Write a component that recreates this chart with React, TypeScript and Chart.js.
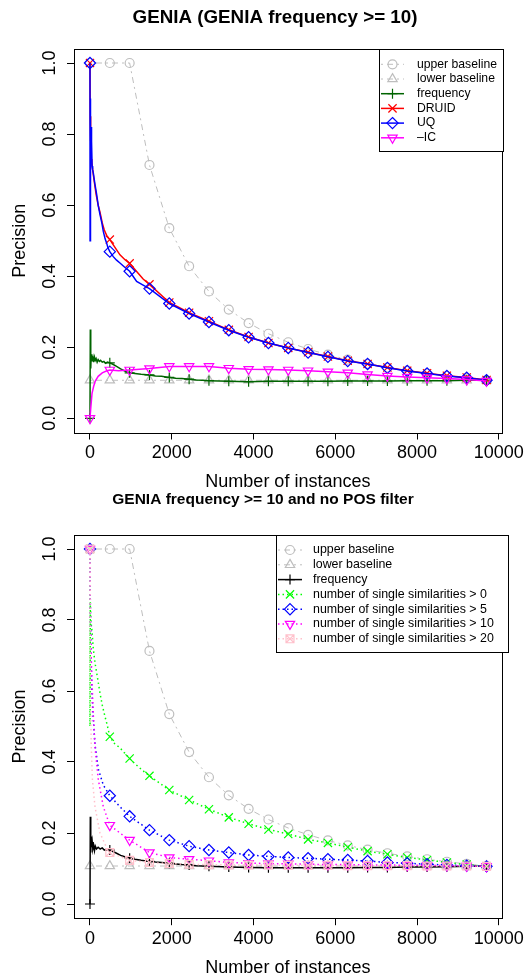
import React, { useEffect, useRef } from "react";
import { Chart, registerables } from "chart.js";

Chart.register(...registerables);

const FONT = "'Liberation Sans', Arial, Helvetica, sans-serif";

// ---------------- data ----------------
const markerX = [0, 485, 970, 1455, 1940, 2425, 2910, 3395, 3880, 4365, 4850, 5335, 5820, 6305, 6790, 7275, 7760, 8245, 8730, 9215, 9700];

const xTicks = [0, 2000, 4000, 6000, 8000, 10000];
const yTicks = [0, 0.2, 0.4, 0.6, 0.8, 1.0];

const upperBaseline = [1.0, 1.0, 1.0, 0.713, 0.535, 0.428, 0.357, 0.306, 0.268, 0.238, 0.214, 0.195, 0.179, 0.165, 0.153, 0.143, 0.134, 0.126, 0.119, 0.113, 0.107];
const lowerBaseline = [0.107, 0.107, 0.107, 0.107, 0.107, 0.107, 0.107, 0.107, 0.107, 0.107, 0.107, 0.107, 0.107, 0.107, 0.107, 0.107, 0.107, 0.107, 0.107, 0.107, 0.107];

// top panel
const freqMarks = [0.0, 0.156, 0.128, 0.122, 0.115, 0.110, 0.106, 0.104, 0.103, 0.104, 0.104, 0.104, 0.104, 0.105, 0.105, 0.105, 0.106, 0.106, 0.106, 0.107, 0.107];
const freqDetailX = [8, 15, 22, 30, 40, 50, 60, 75, 90, 110, 130, 150, 175, 200, 230, 260, 300, 340, 380, 430, 560, 650, 750, 850, 1100, 1250, 1600, 1750, 2100, 2250, 2600, 2750];
const freqDetailY = [0.25, 0.19, 0.14, 0.18, 0.16, 0.175, 0.16, 0.17, 0.158, 0.172, 0.163, 0.168, 0.158, 0.165, 0.16, 0.163, 0.158, 0.16, 0.155, 0.158, 0.152, 0.146, 0.139, 0.133, 0.126, 0.124, 0.119, 0.118, 0.113, 0.112, 0.108, 0.107];

const druidMarks = [1.0, 0.503, 0.436, 0.377, 0.326, 0.297, 0.273, 0.249, 0.229, 0.212, 0.198, 0.186, 0.174, 0.162, 0.153, 0.143, 0.134, 0.127, 0.120, 0.115, 0.108];
const druidDetailX = [5, 12, 20, 30, 45, 65, 100, 150, 200, 245, 300, 350, 408, 570, 733, 850, 1141, 1300];
const druidDetailY = [0.85, 0.78, 0.80, 0.73, 0.72, 0.70, 0.67, 0.63, 0.60, 0.58, 0.55, 0.53, 0.515, 0.488, 0.46, 0.447, 0.413, 0.392];

const uqMarks = [1.0, 0.469, 0.414, 0.365, 0.323, 0.295, 0.271, 0.248, 0.228, 0.212, 0.198, 0.185, 0.173, 0.161, 0.153, 0.142, 0.133, 0.126, 0.119, 0.114, 0.107];
const uqDetailX = [2, 6, 10, 14, 20, 26, 34, 42, 52, 65, 82, 120, 163, 200, 245, 290, 326, 370, 408, 440, 570, 650, 733, 850, 1141, 1300];
const uqDetailY = [0.5, 0.9, 0.8, 0.85, 0.76, 0.82, 0.74, 0.78, 0.71, 0.70, 0.69, 0.66, 0.63, 0.60, 0.573, 0.55, 0.526, 0.505, 0.493, 0.48, 0.455, 0.445, 0.437, 0.425, 0.385, 0.375];

const icMarks = [0.0, 0.136, 0.136, 0.140, 0.146, 0.146, 0.146, 0.141, 0.138, 0.137, 0.136, 0.134, 0.131, 0.128, 0.123, 0.119, 0.116, 0.114, 0.112, 0.109, 0.105];
const icDetailX = [20, 50, 90, 130, 200, 300, 400, 700];
const icDetailY = [0.03, 0.07, 0.09, 0.105, 0.118, 0.128, 0.133, 0.134];

// bottom panel
const freq2Marks = [0.0, 0.152, 0.129, 0.120, 0.115, 0.110, 0.106, 0.104, 0.103, 0.102, 0.102, 0.102, 0.102, 0.102, 0.103, 0.103, 0.104, 0.104, 0.105, 0.106, 0.107];
const freq2DetailX = [8, 15, 22, 30, 40, 55, 70, 90, 110, 130, 160, 200, 250, 300, 350, 420, 560, 650, 750, 850, 1100, 1250, 1600, 1750, 2100, 2250, 2600, 2750];
const freq2DetailY = [0.246, 0.19, 0.145, 0.19, 0.16, 0.175, 0.155, 0.165, 0.15, 0.163, 0.155, 0.16, 0.155, 0.158, 0.152, 0.155, 0.148, 0.143, 0.137, 0.133, 0.126, 0.123, 0.118, 0.117, 0.113, 0.111, 0.108, 0.107];

const sim0Marks = [1.0, 0.471, 0.410, 0.361, 0.321, 0.293, 0.267, 0.244, 0.226, 0.210, 0.197, 0.182, 0.172, 0.160, 0.149, 0.140, 0.131, 0.124, 0.117, 0.111, 0.106];
const sim0DetailX = [2, 8, 20, 49, 80, 122, 180, 245, 300, 367, 420, 600, 733, 850, 1100, 1300];
const sim0DetailY = [0.5, 0.85, 0.80, 0.77, 0.72, 0.68, 0.64, 0.594, 0.56, 0.528, 0.505, 0.452, 0.44, 0.425, 0.395, 0.375];

const sim5Marks = [1.0, 0.305, 0.247, 0.208, 0.180, 0.163, 0.152, 0.145, 0.138, 0.134, 0.131, 0.129, 0.126, 0.124, 0.121, 0.117, 0.115, 0.112, 0.110, 0.108, 0.106];
const sim5DetailX = [5, 12, 25, 45, 82, 122, 204, 326, 733];
const sim5DetailY = [0.9, 0.8, 0.7, 0.6, 0.52, 0.45, 0.38, 0.335, 0.274];

const sim10Marks = [1.0, 0.222, 0.180, 0.145, 0.131, 0.126, 0.122, 0.117, 0.115, 0.114, 0.113, 0.112, 0.111, 0.111, 0.110, 0.110, 0.109, 0.109, 0.108, 0.107, 0.106];
const sim10DetailX = [10, 41, 82, 122, 204, 326, 733];
const sim10DetailY = [0.8, 0.65, 0.53, 0.443, 0.35, 0.274, 0.2];

const sim20Marks = [1.0, 0.145, 0.123, 0.117, 0.114, 0.112, 0.111, 0.110, 0.110, 0.110, 0.109, 0.109, 0.109, 0.108, 0.108, 0.108, 0.108, 0.107, 0.107, 0.107, 0.106];
const sim20DetailX = [10, 30, 60, 122, 245, 408];
const sim20DetailY = [0.6, 0.45, 0.35, 0.274, 0.2, 0.158];

// ---------------- styling ----------------
type MarkerKind = "circle" | "triangle" | "plus" | "cross" | "diamond" | "downtri" | "squarex";

interface SeriesSpec {
  label: string;
  color: string;
  dash: number[];
  lineWidth: number;
  marker: MarkerKind;
  marks: number[];
  detX?: number[];
  detY?: number[];
}

const GRAY = "#BEBEBE";
const DOTDASH = [2, 4, 6, 4];
const DOTTED = [1.5, 3];

const MARKER_R: Record<MarkerKind, number> = {
  circle: 4.5,
  triangle: 5.4,
  plus: 5,
  cross: 5.8,
  diamond: 5.6,
  downtri: 5.4,
  squarex: 5.6,
};

function markerStyles(kind: MarkerKind): { style: string; rot: number }[] {
  switch (kind) {
    case "circle": return [{ style: "circle", rot: 0 }];
    case "triangle": return [{ style: "triangle", rot: 0 }];
    case "plus": return [{ style: "cross", rot: 0 }];
    case "cross": return [{ style: "crossRot", rot: 0 }];
    case "diamond": return [{ style: "rectRot", rot: 0 }];
    case "downtri": return [{ style: "triangle", rot: 180 }];
    case "squarex": return [{ style: "rect", rot: 0 }, { style: "crossRot", rot: 0 }];
  }
}

function lineData(s: SeriesSpec) {
  const pts = markerX.map((x, i) => ({ x, y: s.marks[i] }));
  (s.detX || []).forEach((x, i) => pts.push({ x, y: (s.detY as number[])[i] }));
  pts.sort((a, b) => a.x - b.x);
  return pts;
}

function buildDatasets(series: SeriesSpec[]) {
  const ds: any[] = [];
  let order = 1000;
  series.forEach((s) => {
    ds.push({
      label: s.label,
      data: lineData(s),
      showLine: true,
      borderColor: s.color,
      borderWidth: s.lineWidth,
      borderDash: s.dash,
      pointRadius: 0,
      tension: 0,
      fill: false,
      order: order--,
    });
    markerStyles(s.marker).forEach((m) => {
      ds.push({
        label: s.label + " marks",
        data: markerX.map((x, i) => ({ x, y: s.marks[i] })),
        showLine: false,
        pointStyle: m.style,
        pointRotation: m.rot,
        pointRadius: MARKER_R[s.marker],
        pointBorderColor: s.color,
        pointBackgroundColor: "rgba(0,0,0,0)",
        pointBorderWidth: 1.2,
        order: order--,
      });
    });
  });
  return ds;
}

function drawMarker(ctx: CanvasRenderingContext2D, kind: MarkerKind, x: number, y: number, color: string) {
  const r = MARKER_R[kind];
  ctx.save();
  ctx.strokeStyle = color;
  ctx.lineWidth = 1.2;
  ctx.setLineDash([]);
  ctx.beginPath();
  const poly = (angles: number[]) => {
    angles.forEach((a, i) => {
      const px = x + Math.cos((a * Math.PI) / 180) * r;
      const py = y + Math.sin((a * Math.PI) / 180) * r;
      if (i === 0) ctx.moveTo(px, py); else ctx.lineTo(px, py);
    });
    ctx.closePath();
  };
  const d = r * Math.SQRT1_2;
  switch (kind) {
    case "circle": ctx.arc(x, y, r, 0, Math.PI * 2); break;
    case "triangle": poly([-90, 30, 150]); break;
    case "downtri": poly([90, 210, 330]); break;
    case "diamond": poly([-90, 0, 90, 180]); break;
    case "plus": ctx.moveTo(x - r, y); ctx.lineTo(x + r, y); ctx.moveTo(x, y - r); ctx.lineTo(x, y + r); break;
    case "cross": ctx.moveTo(x - d, y - d); ctx.lineTo(x + d, y + d); ctx.moveTo(x + d, y - d); ctx.lineTo(x - d, y + d); break;
    case "squarex":
      ctx.rect(x - d, y - d, 2 * d, 2 * d);
      ctx.moveTo(x - d, y - d); ctx.lineTo(x + d, y + d); ctx.moveTo(x + d, y - d); ctx.lineTo(x - d, y + d);
      break;
  }
  ctx.stroke();
  ctx.restore();
}

interface LegendBox {
  x0: number; x1: number; y0: number; y1: number;
  symA: number; symB: number; textX: number;
  rowY0: number; rowDy: number; fontSize: number;
}

interface TitleSpec { text: string; x: number; y: number; size: number }

function makeDecor(title: TitleSpec, lg: LegendBox, series: SeriesSpec[]) {
  return {
    id: "rdecor",
    afterDraw(chart: any) {
      const { ctx, chartArea: a } = chart;
      ctx.save();
      ctx.setLineDash([]);
      ctx.strokeStyle = "#000";
      ctx.lineWidth = 1;
      const L = Math.round(a.left) + 0.5, T = Math.round(a.top) + 0.5;
      const R = Math.round(a.right) + 0.5, B = Math.round(a.bottom) + 0.5;
      ctx.strokeRect(L, T, R - L, B - T);

      ctx.fillStyle = "#000";
      ctx.font = `bold ${title.size}px ${FONT}`;
      ctx.textAlign = "center";
      ctx.textBaseline = "middle";
      ctx.fillText(title.text, title.x, title.y);

      ctx.fillStyle = "#fff";
      ctx.fillRect(lg.x0, lg.y0, lg.x1 - lg.x0, lg.y1 - lg.y0);
      ctx.strokeStyle = "#000";
      ctx.strokeRect(Math.round(lg.x0) + 0.5, Math.round(lg.y0) + 0.5, Math.round(lg.x1 - lg.x0), Math.round(lg.y1 - lg.y0));

      series.forEach((s, i) => {
        const y = lg.rowY0 + i * lg.rowDy;
        ctx.save();
        ctx.strokeStyle = s.color;
        ctx.lineWidth = s.lineWidth;
        ctx.setLineDash(s.dash);
        ctx.beginPath();
        ctx.moveTo(lg.symA, y);
        ctx.lineTo(lg.symB, y);
        ctx.stroke();
        ctx.restore();
        drawMarker(ctx, s.marker, (lg.symA + lg.symB) / 2, y, s.color);
        ctx.fillStyle = "#000";
        ctx.font = `${lg.fontSize}px ${FONT}`;
        ctx.textAlign = "left";
        ctx.textBaseline = "middle";
        ctx.fillText(s.label, lg.textX, y);
      });
      ctx.restore();
    },
  };
}

interface PlotProps {
  height: number;
  boxTop: number;
  boxBottom: number;
  boxRight: number;
  title: TitleSpec;
  legend: LegendBox;
  series: SeriesSpec[];
}

function RPlot(p: PlotProps) {
  const ref = useRef<HTMLCanvasElement | null>(null);
  useEffect(() => {
    const W = 527;
    const tickFont = { family: FONT, size: 18 };
    const chart = new Chart(ref.current as HTMLCanvasElement, {
      type: "scatter",
      data: { datasets: buildDatasets(p.series) },
      options: {
        responsive: false,
        animation: false,
        events: [],
        layout: { padding: { left: 0, right: W - p.boxRight, top: p.boxTop, bottom: 0 } },
        plugins: { legend: { display: false }, tooltip: { enabled: false }, title: { display: false } },
        scales: {
          x: {
            type: "linear",
            min: -391,
            max: 10073,
            border: { display: false },
            grid: { drawOnChartArea: false, drawTicks: true, tickLength: 7, color: "#000", lineWidth: 1 },
            afterBuildTicks: (s: any) => { s.ticks = xTicks.map((v) => ({ value: v })); },
            ticks: {
              minRotation: 0,
              maxRotation: 0,
              autoSkip: false,
              color: "#000",
              font: tickFont,
              padding: 3,
              callback: (v: any) => String(v),
            },
            title: {
              display: true,
              text: "Number of instances",
              color: "#000",
              font: { family: FONT, size: 18, lineHeight: 1 },
              padding: { top: 0, bottom: 1 },
            },
            afterFit: (s: any) => { s.height = p.height - p.boxBottom; },
          },
          y: {
            type: "linear",
            min: -0.04,
            max: 1.04,
            border: { display: false },
            grid: { drawOnChartArea: false, drawTicks: true, tickLength: 7, color: "#000", lineWidth: 1 },
            afterBuildTicks: (s: any) => { s.ticks = yTicks.map((v) => ({ value: v })); },
            ticks: {
              minRotation: 90,
              maxRotation: 90,
              crossAlign: "center",
              autoSkip: false,
              color: "#000",
              font: tickFont,
              padding: 4.5,
              callback: (v: any) => Number(v).toFixed(1),
            },
            title: {
              display: true,
              text: "Precision",
              color: "#000",
              font: { family: FONT, size: 18, lineHeight: 1 },
              padding: { top: 11, bottom: 0 },
            },
            afterFit: (s: any) => { s.width = 74; },
          },
        },
      } as any,
      plugins: [makeDecor(p.title, p.legend, p.series)],
    });
    return () => chart.destroy();
  }, []);
  return <canvas ref={ref} width={527} height={p.height} style={{ display: "block", width: 527, height: p.height }} />;
}

const topSeries: SeriesSpec[] = [
  { label: "upper baseline", color: GRAY, dash: DOTDASH, lineWidth: 1, marker: "circle", marks: upperBaseline },
  { label: "lower baseline", color: GRAY, dash: DOTDASH, lineWidth: 1, marker: "triangle", marks: lowerBaseline },
  { label: "frequency", color: "#006400", dash: [], lineWidth: 1.5, marker: "plus", marks: freqMarks, detX: freqDetailX, detY: freqDetailY },
  { label: "DRUID", color: "#FF0000", dash: [], lineWidth: 1.5, marker: "cross", marks: druidMarks, detX: druidDetailX, detY: druidDetailY },
  { label: "UQ", color: "#0000FF", dash: [], lineWidth: 1.5, marker: "diamond", marks: uqMarks, detX: uqDetailX, detY: uqDetailY },
  { label: "\u2013IC", color: "#FF00FF", dash: [], lineWidth: 1.5, marker: "downtri", marks: icMarks, detX: icDetailX, detY: icDetailY },
];

const bottomSeries: SeriesSpec[] = [
  { label: "upper baseline", color: GRAY, dash: DOTDASH, lineWidth: 1, marker: "circle", marks: upperBaseline },
  { label: "lower baseline", color: GRAY, dash: DOTDASH, lineWidth: 1, marker: "triangle", marks: lowerBaseline },
  { label: "frequency", color: "#000000", dash: [], lineWidth: 1.5, marker: "plus", marks: freq2Marks, detX: freq2DetailX, detY: freq2DetailY },
  { label: "number of single similarities > 0", color: "#00FF00", dash: DOTTED, lineWidth: 1.5, marker: "cross", marks: sim0Marks, detX: sim0DetailX, detY: sim0DetailY },
  { label: "number of single similarities > 5", color: "#0000FF", dash: DOTTED, lineWidth: 1.5, marker: "diamond", marks: sim5Marks, detX: sim5DetailX, detY: sim5DetailY },
  { label: "number of single similarities > 10", color: "#FF00FF", dash: DOTTED, lineWidth: 1.5, marker: "downtri", marks: sim10Marks, detX: sim10DetailX, detY: sim10DetailY },
  { label: "number of single similarities > 20", color: "#FFC0CB", dash: DOTTED, lineWidth: 1.5, marker: "squarex", marks: sim20Marks, detX: sim20DetailX, detY: sim20DetailY },
];

export default function App() {
  return (
    <div style={{ position: "absolute", left: 0, top: 0, width: 527, background: "#fff" }}>
      <RPlot
        height={492}
        boxTop={48.8}
        boxBottom={432.5}
        boxRight={502}
        title={{ text: "GENIA (GENIA frequency >= 10)", x: 275, y: 18, size: 18.8 }}
        legend={{ x0: 379, x1: 503, y0: 49, y1: 151, symA: 381, symB: 404, textX: 417, rowY0: 64.3, rowDy: 14.7, fontSize: 12.2 }}
        series={topSeries}
      />
      <RPlot
        height={486}
        boxTop={42.8}
        boxBottom={426.2}
        boxRight={503}
        title={{ text: "GENIA frequency >= 10 and no POS filter", x: 263, y: 8, size: 15.5 }}
        legend={{ x0: 276, x1: 507.7, y0: 43, y1: 160, symA: 278, symB: 302, textX: 313, rowY0: 58, rowDy: 14.8, fontSize: 12.4 }}
        series={bottomSeries}
      />
    </div>
  );
}
